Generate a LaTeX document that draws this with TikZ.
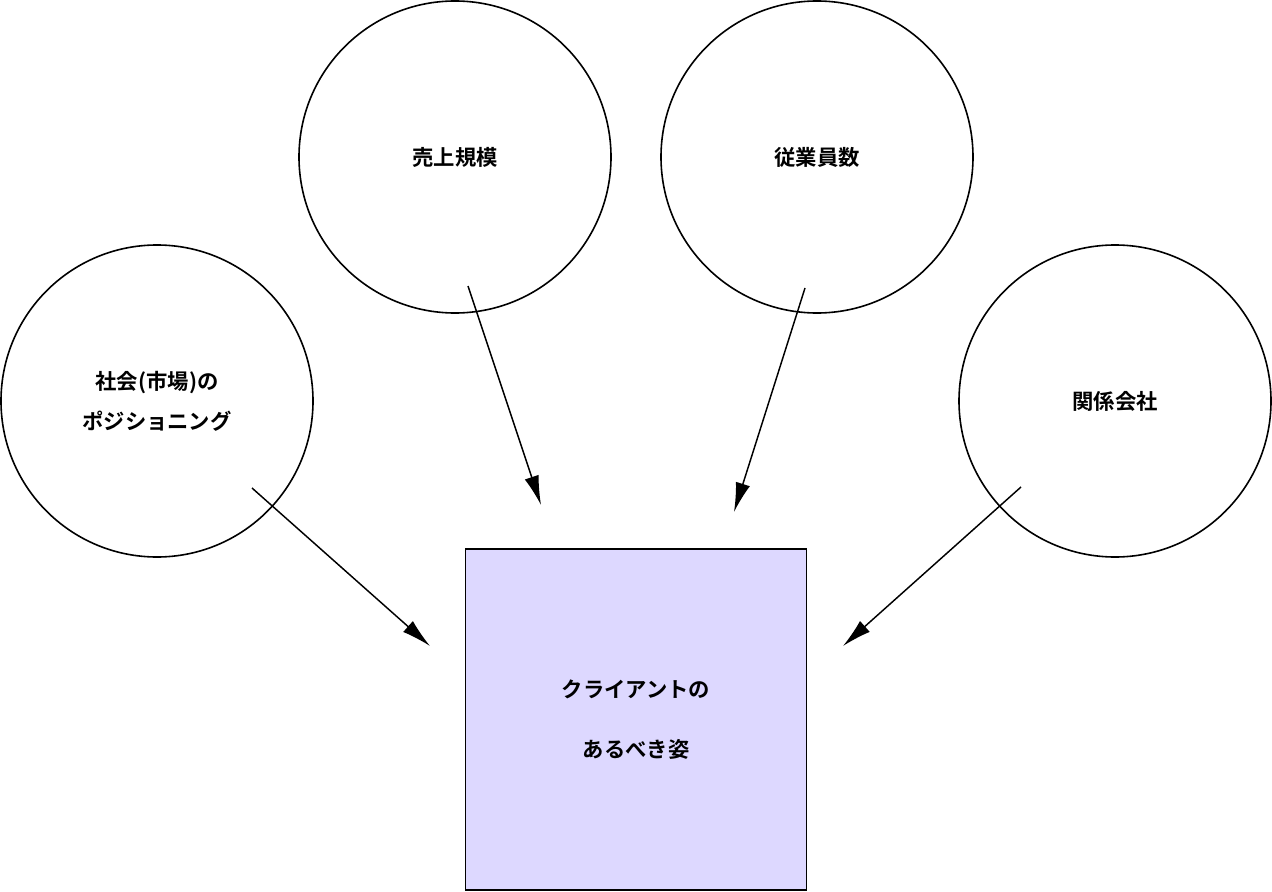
\documentclass[tikz,border=0pt]{standalone}
\usepackage{fontspec}
\newfontfamily\cjk{Noto Sans CJK JP}[BoldFont={Noto Sans CJK JP Bold}]
\usetikzlibrary{arrows.meta}
\definecolor{boxfill}{HTML}{DDD8FF}
\begin{document}
\begin{tikzpicture}[x=0.75pt,y=-0.75pt,
  circ/.style={draw,line width=1.2pt,circle,minimum size=234pt,inner sep=0pt,font=\cjk\bfseries\fontsize{16}{30}\selectfont,align=center},
  arr/.style={line width=1.1pt,-{Latex[length=22pt,width=11pt]}}]
\useasboundingbox (0,0) rectangle (1272,892);
\node[circ] (sales) at (455,157) {売上規模};
\node[circ] (emp) at (817,157) {従業員数};
\node[circ] (soc) at (157,401) {社会(市場)の\\ポジショニング};
\node[circ] (rel) at (1115,401) {関係会社};
\node[draw,line width=1.2pt,fill=boxfill,minimum width=256pt,minimum height=256pt,inner sep=0pt,font=\cjk\bfseries\fontsize{16}{45}\selectfont,align=center] (box) at (636,719.5) {クライアントの\\あるべき姿};
\coordinate (a1) at (468,286); \coordinate (b1) at (541,505);
\coordinate (a2) at (805,288); \coordinate (b2) at (734,512);
\coordinate (a3) at (252,488); \coordinate (b3) at (430,646);
\coordinate (a4) at (1021,487); \coordinate (b4) at (843,646);
\draw[arr] (a1) -- (b1);
\draw[arr] (a2) -- (b2);
\draw[arr] (a3) -- (b3);
\draw[arr] (a4) -- (b4);
\end{tikzpicture}
\end{document}
